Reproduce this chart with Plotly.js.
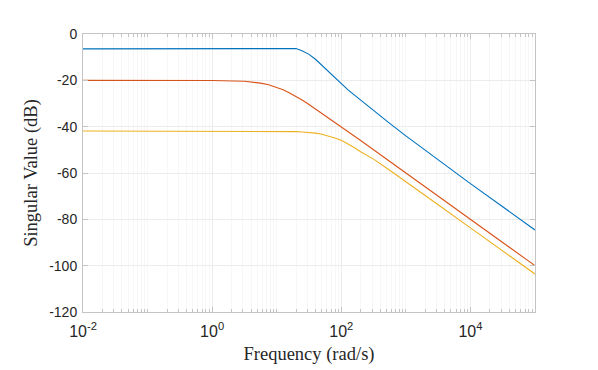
<!DOCTYPE html>
<html>
<head>
<meta charset="utf-8">
<script src="https://cdn.plot.ly/plotly-3.0.1.min.js"></script>
<style>html,body{margin:0;padding:0;background:#fff;}#chart{width:598px;height:370px;}</style>
</head>
<body>
<div id="chart"></div>
<script>
// Frequencies (rad/s)
const freq = [0.01, 0.1, 1, 3.162, 4.217, 5.623, 7.499, 10, 12.59, 15.85, 19.95, 25.12, 31.62, 39.81, 50.12, 63.1, 79.43, 100, 125.9, 158.5, 199.5, 251.2, 316.2, 562.3, 1000, 3162, 10000, 31623, 100000];
// Singular values (dB)
const sv1 = [-6.4, -6.4, -6.4, -6.4, -6.4, -6.4, -6.38, -6.35, -6.3, -6.25, -6.3, -7.3, -8.8, -10.9, -13.5, -16.3, -19.0, -21.6, -24.0, -26.3, -28.6, -30.8, -33.0, -38.6, -44.0, -54.5, -64.6, -74.6, -84.6];
const sv2 = [-20.0, -20.0, -20.04, -20.4, -20.7, -21.2, -21.9, -23.0, -24.1, -25.5, -27.0, -28.6, -30.4, -32.3, -34.2, -36.1, -38.1, -40.0, -42.0, -44.0, -46.0, -48.0, -50.0, -55.0, -60.0, -70.0, -80.0, -90.0, -100.0];
const sv3 = [-41.9, -41.9, -41.9, -41.9, -41.9, -41.9, -41.93, -41.96, -42.0, -42.06, -42.15, -42.3, -42.5, -42.8, -43.3, -44.0, -44.9, -45.9, -47.4, -49.0, -50.8, -52.4, -54.0, -58.8, -63.7, -73.7, -83.7, -93.7, -103.6];
const yTicks = [-120, -100, -80, -60, -40, -20, 0];
const xTicks = [0.01, 1, 100, 10000];
const xTickText = ['10<sup>-2</sup>', '10<sup>0</sup>', '10<sup>2</sup>', '10<sup>4</sup>'];
const colors = ['#0072BD', '#D95319', '#EDB120'];

const series = [sv1, sv2, sv3];
const traces = series.map((s, i) => ({
  x: freq, y: s, type: 'scatter', mode: 'lines',
  line: {color: colors[i], width: 1.1, shape: 'linear'},
  hoverinfo: 'skip', showlegend: false
}));

const axisCommon = {
  showline: true, mirror: 'allticks', linecolor: '#c4c4c4', linewidth: 1,
  ticks: 'inside', ticklen: 5, tickcolor: '#c4c4c4',
  gridcolor: '#ececec', gridwidth: 1, zeroline: false,
  tickfont: {family: 'Liberation Sans, Arial, sans-serif', size: 14, color: '#262626'}
};

const layout = {
  width: 598, height: 370,
  margin: {l: 83, r: 63, t: 34, b: 58},
  paper_bgcolor: '#fff', plot_bgcolor: '#fff',
  xaxis: Object.assign({}, axisCommon, {
    type: 'log', range: [-2, 5],
    tickvals: xTicks, ticktext: xTickText, ticklabelstandoff: 5,
    tickfont: {family: 'Liberation Sans, Arial, sans-serif', size: 16, color: '#262626'},
    minor: {ticks: 'inside', ticklen: 3, tickcolor: '#c4c4c4', showgrid: true, gridcolor: '#f7f7f7', gridwidth: 1, dtick: 'D1'},
    title: {text: 'Frequency (rad/s)', standoff: 7, font: {family: 'Liberation Serif, serif', size: 18.5, color: '#262626'}}
  }),
  yaxis: Object.assign({}, axisCommon, {
    range: [-120, 0], tickvals: yTicks, ticktext: yTicks.map(String), ticklabelstandoff: 2,
    title: {text: 'Singular Value (dB)', standoff: 6, font: {family: 'Liberation Serif, serif', size: 18.5, color: '#262626'}}
  })
};

Plotly.newPlot('chart', traces, layout, {staticPlot: true, displayModeBar: false});
</script>
</body>
</html>
